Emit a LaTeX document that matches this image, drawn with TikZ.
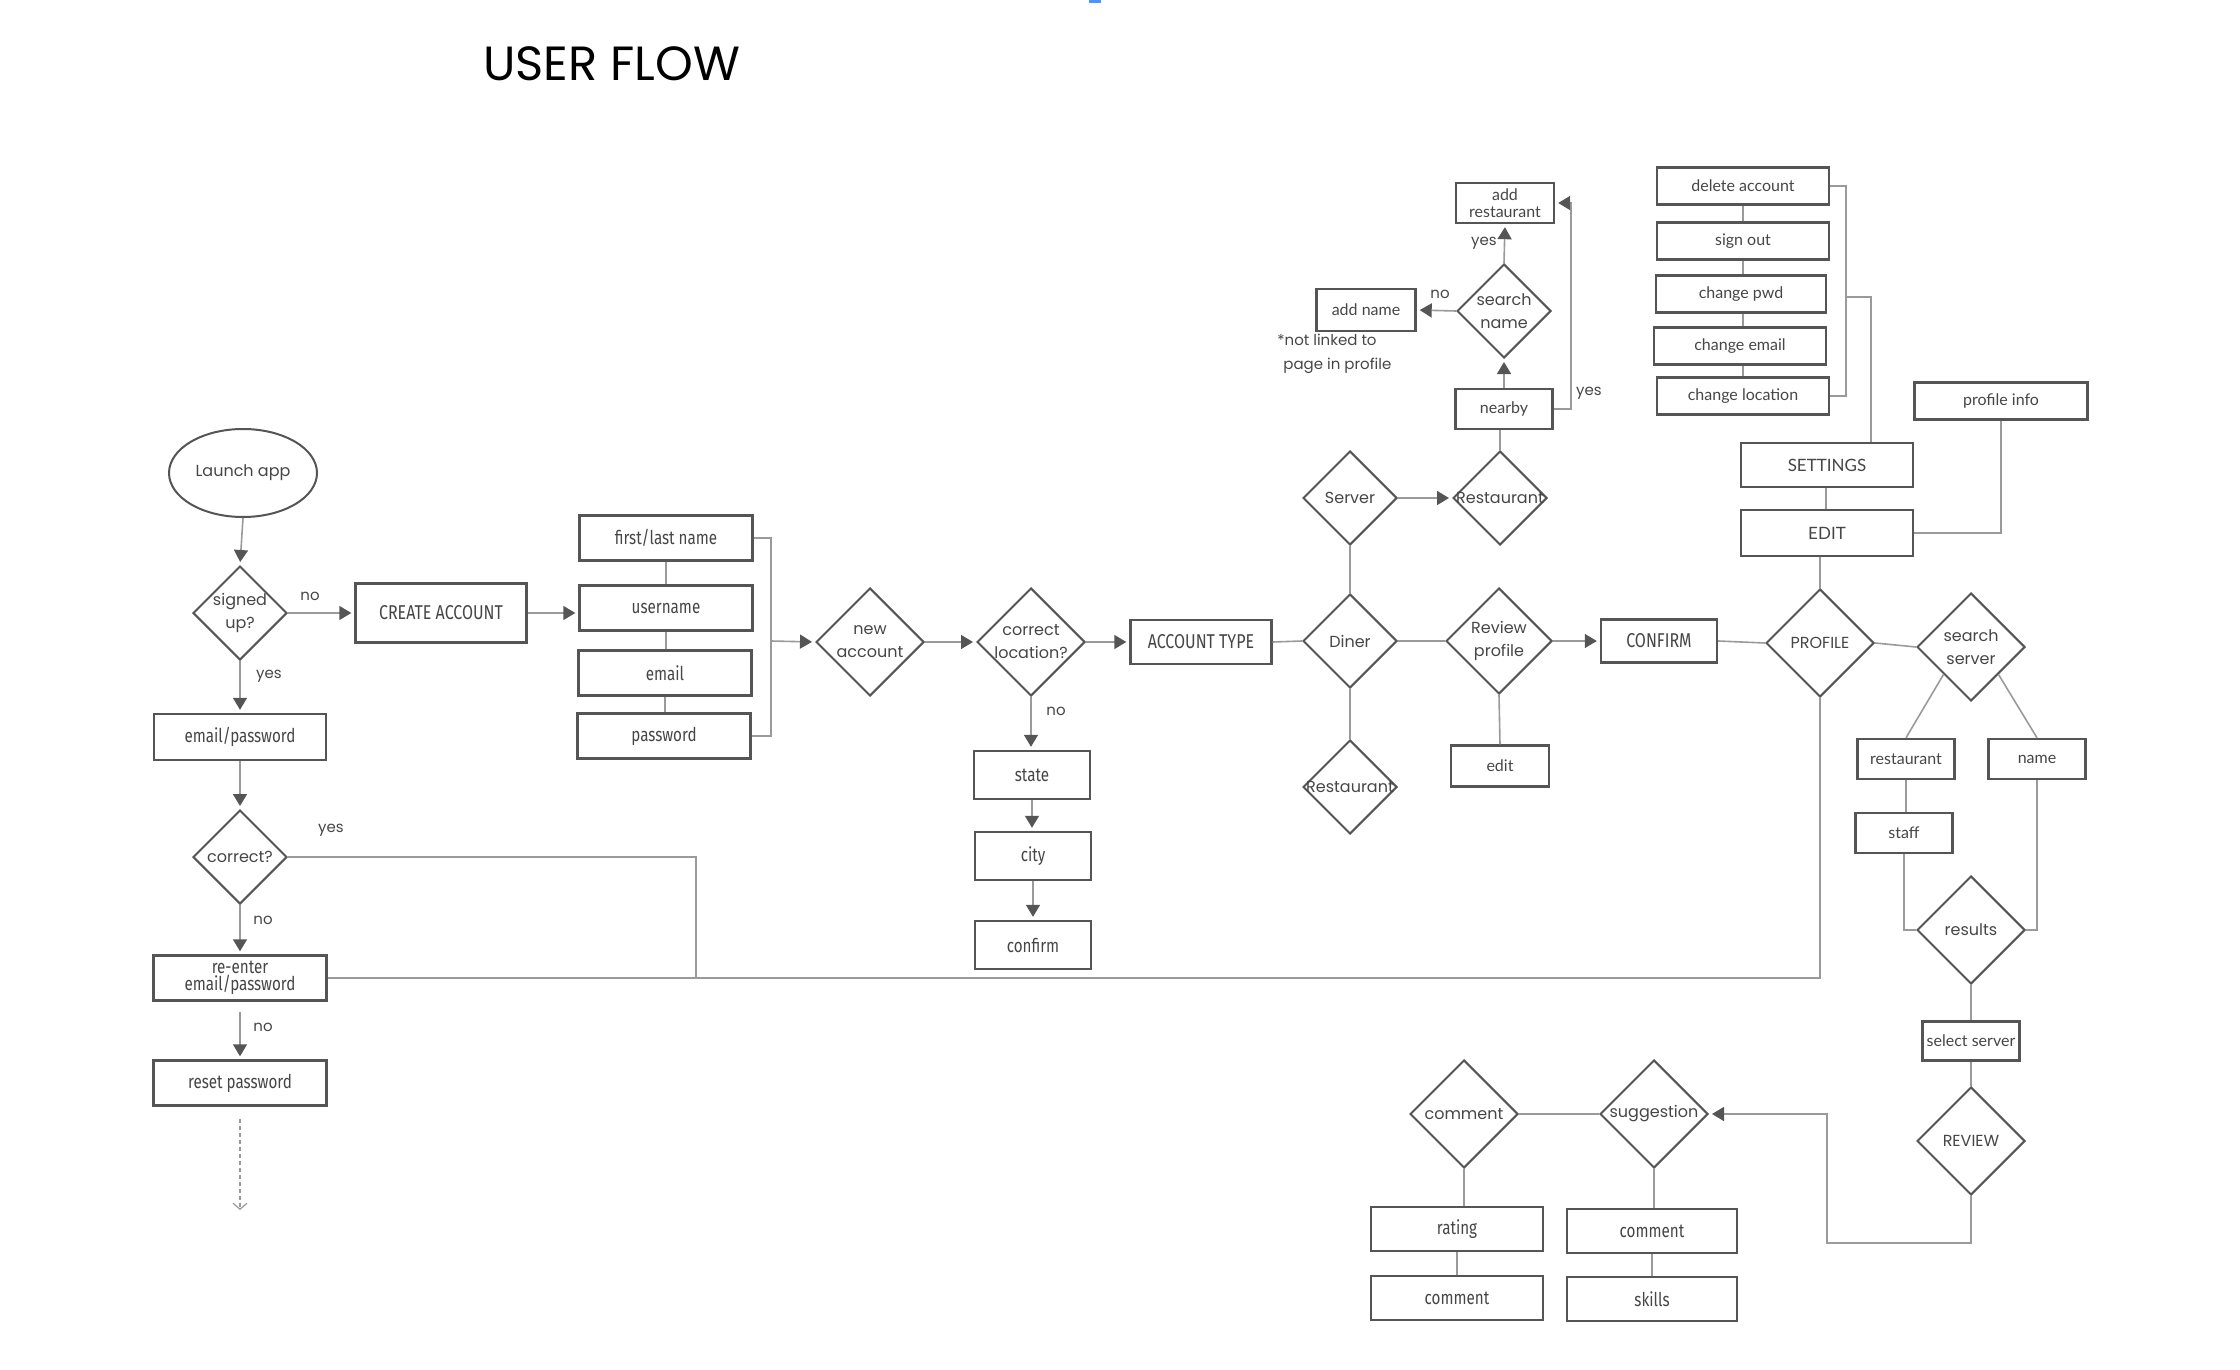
\documentclass[tikz,border=0pt]{standalone}
\usepackage{fontspec}
\usetikzlibrary{shapes.geometric,arrows.meta}
\newfontfamily\condf[FakeStretch=0.8]{Fira Sans}
\newfontfamily\regf{Lato}
\newfontfamily\geof{Poppins}
\definecolor{bc}{HTML}{555555}
\definecolor{tc}{HTML}{464646}
\definecolor{lc}{HTML}{9A9A9A}
\definecolor{ac}{HTML}{555555}
\tikzset{
  bx/.style={draw=bc, line width=1.2pt, fill=white, inner sep=0pt, text=tc, align=center},
  sz/.style 2 args={minimum width=#1, minimum height=#2},
  cbx/.style={bx, font=\condf\fontsize{9.5}{8.6}\selectfont},
  rbx/.style={bx, font=\regf\fontsize{8}{8.6}\selectfont},
  dia/.style={diamond, aspect=1, draw=bc, line width=1pt, fill=white, inner sep=0pt, minimum width=#1, minimum height=#1},
  dl/.style={font=\geof\fontsize{8}{11.5}\selectfont, text=tc, align=center, inner sep=0pt},
  lab/.style={font=\geof\fontsize{7.5}{9}\selectfont, text=tc, inner sep=0pt},
  conn/.style={draw=lc, line width=0.8pt},
  arr/.style={conn, -{Triangle[length=6pt,width=7pt,color=ac]}, shorten >=1.5pt},
}
\begin{document}
\begin{tikzpicture}[x=0.5pt,y=-0.5pt]
\useasboundingbox (0,0) rectangle (2240,1370);
\fill[blue!60!cyan!70] (1089,0) rectangle (1101,3);
\node[anchor=base west, inner sep=0pt, font=\geof\fontsize{24}{28}\selectfont] (title) at (483,81) {USER FLOW};

% left column
\node[ellipse, draw=bc, line width=1pt, minimum width=74pt, minimum height=44pt, inner sep=0pt, font=\geof\fontsize{8}{10}\selectfont, text=tc] (launch) at (243,473) {Launch app};
\node[dia=47pt, label={[dl]center:{signed\\up?}}] (signed) at (240,613) {};
\node[cbx, sz={85.5pt}{29.5pt}, font=\condf\fontsize{10}{11}\selectfont] (create) at (441,613) {CREATE ACCOUNT};
\node[cbx, sz={86pt}{23pt}] (ep) at (240,737) {email/password};
\node[dia=47pt, label={[dl]center:{correct?}}] (corr) at (240,857) {};
\node[cbx, sz={86.5pt}{22.5pt}] (reen) at (240,978) {re-enter\\email/password};
\node[cbx, sz={86.5pt}{22.5pt}] (reset) at (240,1083) {reset password};
\coordinate (dashend) at (240,1210);
\coordinate (j1) at (696,978);

\node[lab] (l1) at (310,596) {no};
\node[lab] (l2) at (269,676) {yes};
\node[lab] (l3) at (331,830) {yes};
\node[lab] (l4) at (263,920) {no};
\node[lab] (l5) at (263,1027) {no};

\draw[arr] (launch.south) -- (signed.north);
\draw[arr] (signed.east) -- (create.west);
\draw[arr] (signed.south) -- (ep.north);
\draw[arr] (ep.south) -- (corr.north);
\draw[arr] (corr.south) -- (reen.north);
\draw[arr] ([yshift=-5pt]reen.south) -- (reset.north);
\draw[draw=lc, line width=0.6pt, dashed, dash pattern=on 2pt off 1.5pt, -{Straight Barb[length=3pt,width=7pt]}] ([yshift=-6pt]reset.south) -- (dashend);
\draw[conn] (corr.east) -| (j1);

% account fields
\node[cbx, sz={86.5pt}{22.5pt}] (fl) at (666,538) {first/last name};
\node[cbx, sz={86.5pt}{22.5pt}] (user) at (666,608) {username};
\node[cbx, sz={86.5pt}{22.5pt}] (email) at (665,673) {email};
\node[cbx, sz={86.5pt}{22.5pt}] (pw) at (664,736) {password};
\coordinate (br1) at (771,641);
\draw[arr] (create.east) -- (create.east -| user.west);
\draw[conn] (fl.south) -- (fl.south |- user.north);
\draw[conn] (user.south) -- (user.south |- email.north);
\draw[conn] (email.south) -- (email.south |- pw.north);
\draw[conn] (fl.east) -| (br1) |- (pw.east);

\node[dia=54pt, label={[dl]center:{new\\account}}] (newacc) at (870,642) {};
\node[dia=54pt, label={[dl]center:{correct\\location?}}] (cloc) at (1031,642) {};
\node[cbx, sz={70.5pt}{22pt}, font=\condf\fontsize{10}{11}\selectfont] (acct) at (1201,642) {ACCOUNT TYPE};
\node[cbx, sz={58pt}{24pt}] (state) at (1032,775) {state};
\node[cbx, sz={58pt}{24pt}] (city) at (1033,856) {city};
\node[cbx, sz={58pt}{24pt}] (confirm) at (1033,945) {confirm};
\node[lab] (l6) at (1056,711) {no};
\draw[arr] (br1) -- (newacc.west);
\draw[arr] (newacc.east) -- (cloc.west);
\draw[arr] (cloc.east) -- (acct.west);
\draw[arr] (cloc.south) -- (cloc.south |- state.north);
\draw[arr] (state.south) -- (state.south |- city.north);
\draw[arr] (city.south) -- (city.south |- confirm.north);

% account type
\node[dia=47pt, label={[dl]center:{Diner}}] (diner) at (1350,641) {};
\node[dia=47pt, label={[dl]center:{Server}}] (srv) at (1350,498) {};
\node[dia=47pt, label={[dl]center:{Restaurant}}] (rest2) at (1350,787) {};
\node[dia=47pt, label={[dl]center:{Restaurant}}] (rest1) at (1500,498) {};
\node[rbx, sz={48.5pt}{20pt}] (nearby) at (1504,409) {nearby};
\node[dia=47pt, label={[dl]center:{search\\name}}] (sname) at (1504,311) {};
\node[rbx, sz={49.5pt}{21pt}] (addname) at (1366,310) {add name};
\node[rbx, sz={49pt}{20pt}] (addrest) at (1505,203) {add\\restaurant};
\node[anchor=north west, inner sep=0pt, align=left, font=\geof\fontsize{7.5}{12}\selectfont, text=tc] (note) at (1277,334) {*not linked to\\\hspace*{3pt}page in profile};
\coordinate (ny) at (1571,203);
\node[lab] (l7) at (1440,294) {no};
\node[lab] (l8) at (1484,243) {yes};
\node[lab] (l9) at (1589,393) {yes};

\draw[conn] (acct.east) -- (diner.west);
\draw[conn] (diner.north) -- (srv.south);
\draw[conn] (diner.south) -- (rest2.north);
\draw[arr] (srv.east) -- (rest1.west);
\draw[conn] (rest1.north) -- (rest1.north |- nearby.south);
\draw[arr] (nearby.north) -- (sname.south);
\draw[arr] (sname.west) -- (addname.east);
\draw[arr] (sname.north) -- (addrest.south);
\draw[arr] (nearby.east) -| (ny) -- (addrest.east);

% review / confirm / profile
\node[dia=53pt, label={[dl]center:{Review\\profile}}] (review) at (1499,641) {};
\node[rbx, sz={49pt}{20.5pt}] (edit) at (1500,766) {edit};
\node[cbx, sz={58pt}{21.5pt}, font=\condf\fontsize{10}{11}\selectfont] (confB) at (1659,641) {CONFIRM};
\node[dia=54pt, label={[dl]center:{PROFILE}}] (prof) at (1820,643) {};
\draw[conn] (diner.east) -- (review.west);
\draw[conn] (review.south) -- (edit.north);
\draw[arr] (review.east) -- (confB.west);
\draw[conn] (confB.east) -- (prof.west);
\draw[conn] (reen.east) -| (prof.south);

% settings
\node[rbx, sz={86pt}{23pt}, font=\regf\fontsize{8.5}{10}\selectfont] (editB) at (1827,533) {EDIT};
\node[rbx, sz={86pt}{22pt}, font=\regf\fontsize{8.5}{10}\selectfont] (sett) at (1827,465) {SETTINGS};
\node[rbx, sz={86pt}{18.5pt}] (del) at (1743,186) {delete account};
\node[rbx, sz={86pt}{18.5pt}] (sign) at (1743,241) {sign out};
\node[rbx, sz={85pt}{18.5pt}] (pwd) at (1741,294) {change pwd};
\node[rbx, sz={86pt}{18.5pt}] (cem) at (1740,346) {change email};
\node[rbx, sz={86pt}{18.5pt}] (loc) at (1743,396) {change location};
\node[rbx, sz={86.5pt}{18.5pt}] (pinfo) at (2001,401) {profile info};
\coordinate (sb1) at (1846,297);
\coordinate (sb2) at (1871,0);
\draw[conn] (prof.north) -- (prof.north |- editB.south);
\draw[conn] (sett.south -| 1826,0) -- (editB.north -| 1826,0);
\draw[conn] (del.south) -- (del.south |- sign.north);
\draw[conn] (sign.south) -- (sign.south |- pwd.north);
\draw[conn] (pwd.south -| sign.south) -- (sign.south |- cem.north);
\draw[conn] (cem.south -| sign.south) -- (sign.south |- loc.north);
\draw[conn] (del.east) -| (sb1) |- (loc.east);
\draw[conn] (sb1) -| (sb2 |- sett.north);
\draw[conn] (pinfo.south) |- (editB.east);

% search server
\node[dia=54pt, label={[dl]center:{search\\server}}] (ss) at (1971,647) {};
\node[rbx, sz={48.5pt}{20pt}] (rst) at (1906,759) {restaurant};
\node[rbx, sz={48.5pt}{20pt}] (nm) at (2037,759) {name};
\node[rbx, sz={48.5pt}{20pt}] (staff) at (1904,833) {staff};
\node[dia=54pt, label={[dl]center:{results}}] (res) at (1971,930) {};
\node[rbx, sz={48.5pt}{19.5pt}] (sel) at (1971,1041) {select server};
\node[dia=54pt, label={[dl]center:{REVIEW}}] (rev) at (1971,1141) {};
\draw[conn] (prof.east) -- (ss.west);
\draw[conn] (ss.south west) -- (rst.north);
\draw[conn] (ss.south east) -- (nm.north);
\draw[conn] (rst.south) -- (rst.south |- staff.north);
\draw[conn] (staff.south) |- (res.west);
\draw[conn] (nm.south) |- (res.east);
\draw[conn] (res.south) -- (sel.north);
\draw[conn] (sel.south) -- (rev.north);

% review branch
\node[dia=54pt, label={[dl]center:{suggestion}}] (sugg) at (1654,1114) {};
\node[dia=54pt, label={[dl]center:{comment}}] (cmt) at (1464,1114) {};
\node[cbx, sz={86pt}{22pt}] (rating) at (1457,1229) {rating};
\node[cbx, sz={86pt}{22pt}] (cmt2) at (1457,1298) {comment};
\node[cbx, sz={85pt}{22pt}] (cmt3) at (1652,1231) {comment};
\node[cbx, sz={85pt}{22pt}] (skills) at (1652,1299) {skills};
\coordinate (r1) at (0,1243);
\coordinate (r2) at (1827,1114);
\draw[arr] (rev.south) -- (rev.south |- r1) -| (r2) -- (sugg.east);
\draw[conn] (cmt.east) -- (sugg.west);
\draw[conn] (cmt.south) -- (cmt.south |- rating.north);
\draw[conn] (rating.south) -- (cmt2.north);
\draw[conn] (sugg.south) -- (sugg.south |- cmt3.north);
\draw[conn] (cmt3.south) -- (skills.north);
\end{tikzpicture}
\end{document}
